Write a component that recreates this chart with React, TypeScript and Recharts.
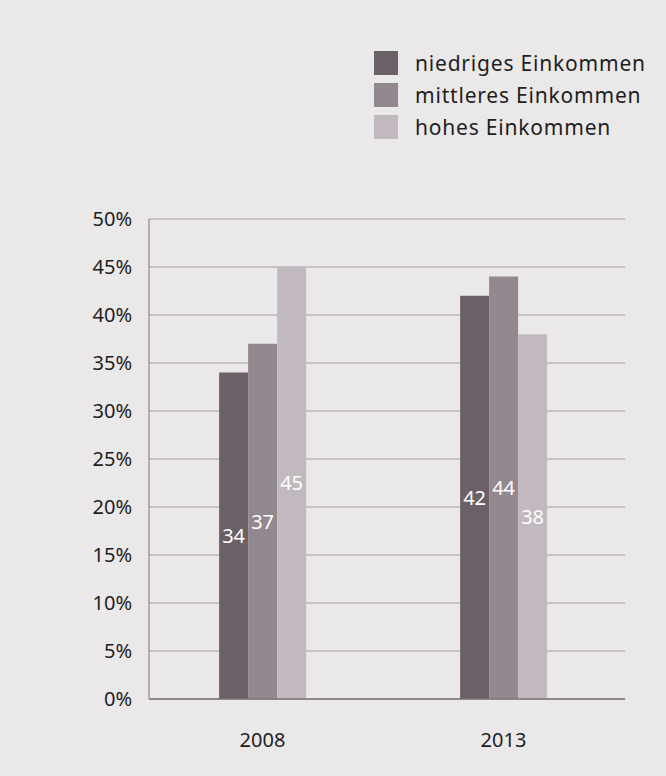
import React from "react";
import { BarChart, Bar, XAxis, YAxis, CartesianGrid, LabelList } from "recharts";

const categories = ["2008", "2013"];
const niedrig = [34, 42];
const mittel = [37, 44];
const hoch = [45, 38];
const yTicks = [0, 5, 10, 15, 20, 25, 30, 35, 40, 45, 50];
const seriesNames = ["niedriges Einkommen", "mittleres Einkommen", "hohes Einkommen"];
const colors = ["#6b5f68", "#948890", "#c2b8bf"];

const data = categories.map((c, i) => ({ year: c, niedrig: niedrig[i], mittel: mittel[i], hoch: hoch[i] }));

const FONT = "'Noto Sans', 'Open Sans', sans-serif";

const LegendBox = () => (
  <div
    style={{
      position: "absolute",
      left: 374,
      top: 47,
      fontFamily: FONT,
      fontSize: 21,
      letterSpacing: 0.8,
      color: "#1e1e1e",
    }}
  >
    {seriesNames.map((n, i) => (
      <div key={n} style={{ display: "flex", alignItems: "center", height: 32 }}>
        <div style={{ width: 24, height: 24, background: colors[i], marginRight: 17, flexShrink: 0 }} />
        <span style={{ whiteSpace: "nowrap" }}>{n}</span>
      </div>
    ))}
  </div>
);

export default function App() {
  return (
    <div style={{ position: "absolute", left: 0, top: 0, width: 666, height: 776, background: "#ebe8ea" }}>
      <LegendBox />
      <div style={{ position: "absolute", left: 0, top: 0 }}>
        <BarChart
          width={666}
          height={776}
          data={data}
          margin={{ top: 219, right: 41, bottom: 0, left: 0 }}
          barGap={0}
          barCategoryGap="32%"
        >
          <CartesianGrid horizontal vertical={false} stroke="#a69ca3" strokeWidth={1.2} />
          <XAxis
            dataKey="year"
            height={77}
            padding={{ left: -7, right: 1 }}
            axisLine={{ stroke: "#7d737b", strokeWidth: 1.5 }}
            tickLine={false}
            tickSize={0}
            tickMargin={34}
            tick={{ fill: "#1e1e1e", fontSize: 20, fontFamily: FONT }}
          />
          <YAxis
            width={149}
            domain={[0, 50]}
            ticks={yTicks}
            tickFormatter={(v) => `${v}%`}
            axisLine={{ stroke: "#8f8690", strokeWidth: 1.2 }}
            tickLine={false}
            tickSize={0}
            tickMargin={17}
            tick={{ fill: "#1e1e1e", fontSize: 20, fontFamily: FONT }}
          />
          <Bar dataKey="niedrig" fill={colors[0]} isAnimationActive={false}>
            <LabelList dataKey="niedrig" position="center" fill="#ffffff" fontSize={20} fontFamily={FONT} />
          </Bar>
          <Bar dataKey="mittel" fill={colors[1]} isAnimationActive={false}>
            <LabelList dataKey="mittel" position="center" fill="#ffffff" fontSize={20} fontFamily={FONT} />
          </Bar>
          <Bar dataKey="hoch" fill={colors[2]} isAnimationActive={false}>
            <LabelList dataKey="hoch" position="center" fill="#ffffff" fontSize={20} fontFamily={FONT} />
          </Bar>
        </BarChart>
      </div>
    </div>
  );
}
